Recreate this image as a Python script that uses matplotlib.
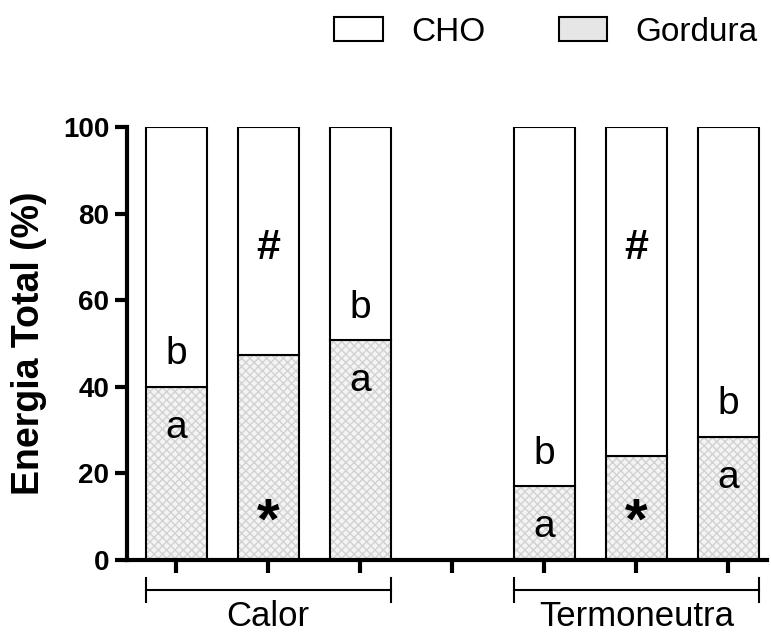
import matplotlib.pyplot as plt
from matplotlib.patches import Patch

plt.rcParams['font.family'] = ['Liberation Sans', 'DejaVu Sans']

groups = ["Calor", "Termoneutra"]
positions = [0, 1, 2, 4, 5, 6]
gordura = [40.0, 47.3, 50.8, 17.0, 24.0, 28.5]
cho = [100 - g for g in gordura]
top_marks = ["b", "#", "b", "b", "#", "b"]
low_marks = ["a", "*", "a", "a", "*", "a"]
yticks = [0, 20, 40, 60, 80, 100]

width = 0.66

fig = plt.figure(figsize=(7.71, 6.32), dpi=100)
ax = fig.add_axes([0.165, 0.114, 0.83, 0.685])

# fat part: light checkered look, then outline on top
ax.bar(positions, gordura, width, color="#f4f4f4", hatch="xxxx",
       edgecolor="#d2d2d2", linewidth=0)
ax.bar(positions, gordura, width, fill=False, edgecolor="black", linewidth=1.5)
ax.bar(positions, cho, width, bottom=gordura, color="white",
       edgecolor="black", linewidth=1.5)

for x, g, t, l in zip(positions, gordura, top_marks, low_marks):
    if t == "#":
        ax.text(x, 72, t, ha="center", va="center", fontsize=31, fontweight="bold")
    else:
        ax.text(x, g + 7.5, t, ha="center", va="center", fontsize=28)
    if l == "*":
        ax.text(x, 8.5, l, ha="center", va="center", fontsize=42, fontweight="bold")
    else:
        ax.text(x, g - 9.5, l, ha="center", va="center", fontsize=28)

ax.set_ylim(0, 100)
ax.set_xlim(-0.533, 6.42)
ax.set_yticks(yticks)
ax.set_xticks(range(7))
ax.set_xticklabels([])
for lab in ax.get_yticklabels():
    lab.set_fontweight("bold")
ax.tick_params(axis="y", labelsize=20, width=3, length=9, pad=4)
ax.tick_params(axis="x", width=3, length=9)
for s in ["top", "right"]:
    ax.spines[s].set_visible(False)
for s in ["left", "bottom"]:
    ax.spines[s].set_linewidth(3)

ax.set_ylabel("Energia Total (%)", fontsize=27, fontweight="bold")
ax.yaxis.set_label_coords(-0.125, 0.5)

# group brackets under the axis
tr = ax.get_xaxis_transform()
for i, name in enumerate(groups):
    xs = positions[i * 3:(i + 1) * 3]
    x0, x1 = xs[0] - width / 2, xs[-1] + width / 2
    ax.plot([x0, x1], [-0.069, -0.069], color="black", lw=1.5, transform=tr, clip_on=False)
    for xe in (x0, x1):
        ax.plot([xe, xe], [-0.042, -0.097], color="black", lw=1.5, transform=tr, clip_on=False)
    ax.text((x0 + x1) / 2, -0.13, name, ha="center", va="center", fontsize=25,
            transform=tr)

handles = [Patch(facecolor="white", edgecolor="black", linewidth=1.5),
           Patch(facecolor="#e6e6e6", edgecolor="black", linewidth=1.5)]
fig.legend(handles, ["CHO", "Gordura"], loc="center", bbox_to_anchor=(0.708, 0.949),
           ncol=2, frameon=False, fontsize=24, handlelength=1.45, handleheight=0.7,
           handletextpad=0.85, columnspacing=2.2)

fig.savefig("out.png", dpi=100)
